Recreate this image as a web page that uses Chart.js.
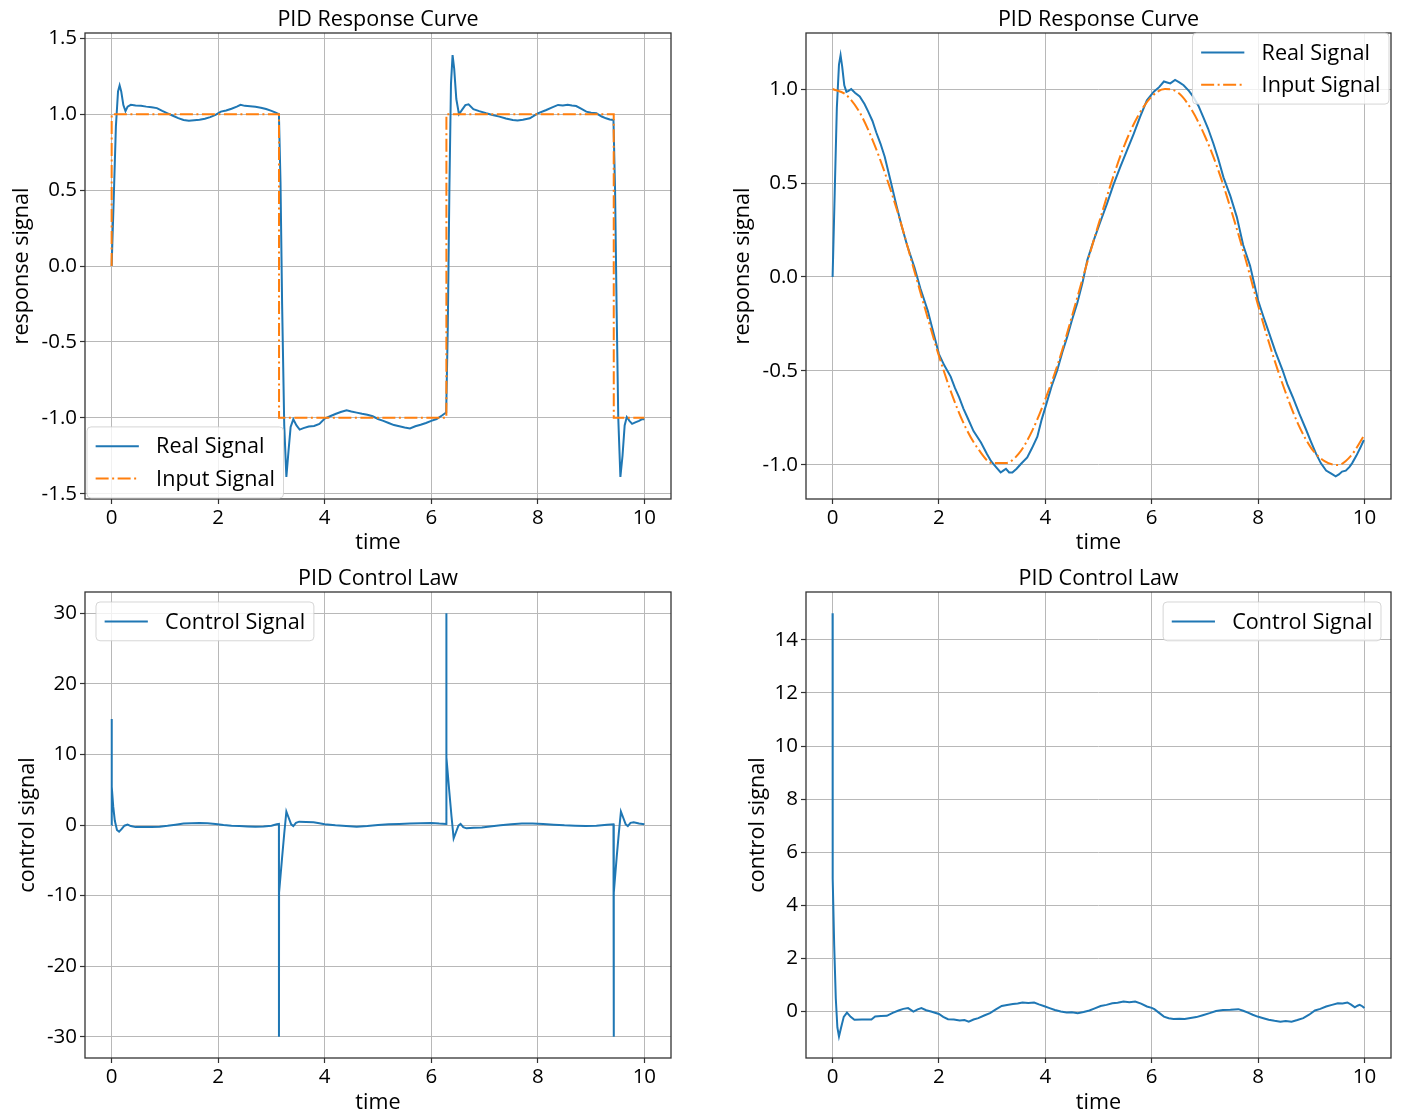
<!DOCTYPE html>
<html>
<head>
<meta charset="utf-8">
<script src="https://cdn.jsdelivr.net/npm/chart.js@4/dist/chart.umd.min.js"></script>
<style>
  html, body { margin: 0; padding: 0; background: #fff; }
  #page { position: relative; width: 1405px; height: 1117px; overflow: hidden; }
  .box { position: absolute; }
</style>
</head>
<body>
<div id="page">
  <div class="box" style="left:0;top:0"><canvas id="tl" width="700" height="560"></canvas></div>
  <div class="box" style="left:700px;top:0"><canvas id="tr" width="705" height="560"></canvas></div>
  <div class="box" style="left:0;top:560px"><canvas id="bl" width="700" height="557"></canvas></div>
  <div class="box" style="left:700px;top:560px"><canvas id="br" width="705" height="557"></canvas></div>
</div>
<script>
// square wave run: response
var sqRealTime = [0, 0.04, 0.08, 0.12, 0.15, 0.18, 0.22, 0.26, 0.30, 0.36, 0.45, 0.55, 0.65, 0.75, 0.85, 0.95,
  1.05, 1.15, 1.25, 1.35, 1.45, 1.55, 1.65, 1.75, 1.85, 1.95, 2.05, 2.15, 2.25, 2.35, 2.42, 2.50, 2.60, 2.70,
  2.80, 2.90, 3.00, 3.08, 3.14, 3.17, 3.20, 3.24, 3.28, 3.32, 3.36, 3.41, 3.47, 3.53, 3.60, 3.70, 3.80, 3.90,
  4.00, 4.10, 4.20, 4.30, 4.41, 4.50, 4.60, 4.70, 4.80, 4.90, 5.00, 5.10, 5.20, 5.30, 5.40, 5.50, 5.60, 5.70,
  5.80, 5.90, 6.00, 6.10, 6.20, 6.28, 6.31, 6.34, 6.37, 6.40, 6.43, 6.47, 6.52, 6.58, 6.64, 6.70, 6.79, 6.90,
  7.03, 7.15, 7.28, 7.40, 7.53, 7.62, 7.72, 7.85, 8.00, 8.16, 8.27, 8.38, 8.47, 8.56, 8.64, 8.72, 8.82, 8.91,
  9.00, 9.10, 9.20, 9.28, 9.35, 9.42, 9.45, 9.48, 9.51, 9.55, 9.59, 9.63, 9.67, 9.72, 9.77, 9.83, 9.90, 9.95, 10.0];
var sqReal = [0, 0.45, 0.92, 1.15, 1.19, 1.15, 1.06, 1.02, 1.05, 1.062, 1.058, 1.055, 1.05, 1.046, 1.04, 1.022,
  1.006, 0.99, 0.974, 0.962, 0.957, 0.96, 0.963, 0.97, 0.981, 0.995, 1.017, 1.024, 1.036, 1.05, 1.062, 1.055, 1.053, 1.049,
  1.042, 1.034, 1.022, 1.01, 1.0, 0.55, -0.25, -1.05, -1.39, -1.22, -1.06, -1.01, -1.05, -1.078, -1.068, -1.058, -1.054, -1.04,
  -1.005, -0.99, -0.975, -0.962, -0.95, -0.958, -0.966, -0.974, -0.98, -0.99, -1.008, -1.02, -1.034, -1.048, -1.056, -1.064, -1.07, -1.056,
  -1.046, -1.034, -1.02, -1.008, -0.985, -0.965, -0.4, 0.5, 1.2, 1.39, 1.3, 1.1, 1.0, 1.03, 1.06, 1.065, 1.033, 1.02,
  1.006, 0.995, 0.984, 0.972, 0.962, 0.958, 0.963, 0.973, 1.006, 1.028, 1.045, 1.061, 1.058, 1.062, 1.057, 1.054, 1.035, 1.017,
  1.01, 1.006, 0.985, 0.973, 0.965, 0.962, 0.5, -0.3, -1.0, -1.39, -1.25, -1.05, -0.995, -1.02, -1.04, -1.03, -1.02, -1.01, -1.01];
var sqInTime = [0, 0.001, 3.1416, 3.1426, 6.2832, 6.2842, 9.4248, 9.4258, 10.0];
var sqIn = [0, 1, 1, -1, -1, 1, 1, -1, -1];

// cosine run
var sinRealTime = [0, 0.04, 0.08, 0.12, 0.15, 0.18, 0.22, 0.26, 0.30, 0.35, 0.42, 0.51, 0.60, 0.67, 0.75, 0.82,
  0.90, 0.98, 1.10, 1.20, 1.30, 1.40, 1.54, 1.65, 1.79, 1.90, 2.00, 2.10, 2.22, 2.30, 2.38, 2.46, 2.54, 2.65,
  2.79, 2.90, 2.98, 3.07, 3.16, 3.21, 3.26, 3.32, 3.38, 3.46, 3.54, 3.66, 3.75, 3.85, 3.93, 4.02, 4.12, 4.22,
  4.32, 4.41, 4.50, 4.60, 4.70, 4.79, 4.91, 5.03, 5.16, 5.28, 5.41, 5.53, 5.66, 5.78, 5.91, 6.04, 6.14, 6.23,
  6.29, 6.35, 6.44, 6.52, 6.60, 6.70, 6.78, 6.88, 6.97, 7.06, 7.16, 7.25, 7.35, 7.48, 7.60, 7.72, 7.85, 8.00,
  8.10, 8.21, 8.33, 8.46, 8.55, 8.65, 8.78, 8.90, 9.00, 9.09, 9.18, 9.28, 9.37, 9.46, 9.52, 9.58, 9.65, 9.72,
  9.77, 9.85, 9.92, 9.99];
var sinReal = [0, 0.45, 0.9, 1.13, 1.18, 1.12, 1.02, 0.985, 0.99, 1.0, 0.98, 0.96, 0.92, 0.88, 0.83, 0.77,
  0.71, 0.64, 0.5, 0.38, 0.27, 0.17, 0.05, -0.06, -0.18, -0.3, -0.41, -0.47, -0.53, -0.59, -0.64, -0.7, -0.75, -0.82,
  -0.88, -0.94, -0.98, -1.01, -1.04, -1.03, -1.02, -1.04, -1.04, -1.02, -0.995, -0.96, -0.91, -0.85, -0.76, -0.675, -0.58, -0.5,
  -0.4, -0.32, -0.23, -0.14, -0.03, 0.09, 0.195, 0.29, 0.39, 0.49, 0.586, 0.67, 0.76, 0.85, 0.94, 0.986, 1.01, 1.04,
  1.035, 1.03, 1.048, 1.035, 1.02, 0.99, 0.96, 0.91, 0.85, 0.79, 0.71, 0.63, 0.53, 0.43, 0.32, 0.17, 0.06, -0.124,
  -0.21, -0.3, -0.4, -0.495, -0.57, -0.637, -0.73, -0.81, -0.88, -0.94, -0.99, -1.03, -1.045, -1.06, -1.05, -1.035, -1.03, -1.01,
  -0.99, -0.95, -0.91, -0.867];
var sinInTime = [0, 0.25, 0.5, 0.75, 1.0, 1.25, 1.5, 1.75, 2.0, 2.25, 2.5, 2.75, 3.0, 3.25, 3.5, 3.75, 4.0, 4.25,
  4.5, 4.75, 5.0, 5.25, 5.5, 5.75, 6.0, 6.25, 6.5, 6.75, 7.0, 7.25, 7.5, 7.75, 8.0, 8.25, 8.5, 8.75, 9.0, 9.25,
  9.5, 9.75, 10.0];
var sinIn = [1.0, 0.97, 0.88, 0.73, 0.54, 0.32, 0.07, -0.18, -0.42, -0.63, -0.8, -0.92, -0.99, -0.99, -0.94, -0.82, -0.65, -0.45,
  -0.21, 0.04, 0.28, 0.51, 0.71, 0.86, 0.96, 1.0, 0.98, 0.89, 0.75, 0.57, 0.35, 0.11, -0.15, -0.39, -0.6, -0.78, -0.91, -0.98,
  -1.0, -0.95, -0.84];

// control signals
var sqCtrlTime = [0, 0.001, 0.003, 0.03, 0.06, 0.10, 0.14, 0.19, 0.24, 0.30, 0.36, 0.45, 0.60, 0.75, 0.90, 1.05,
  1.20, 1.35, 1.50, 1.65, 1.80, 1.95, 2.10, 2.25, 2.40, 2.55, 2.70, 2.85, 3.00, 3.10, 3.140, 3.141, 3.143, 3.20,
  3.24, 3.28, 3.32, 3.37, 3.41, 3.46, 3.52, 3.65, 3.79, 3.90, 4.00, 4.20, 4.40, 4.60, 4.80, 5.00, 5.20, 5.40,
  5.60, 5.80, 6.00, 6.15, 6.280, 6.283, 6.285, 6.34, 6.38, 6.42, 6.46, 6.51, 6.55, 6.60, 6.66, 6.80, 6.95, 7.10,
  7.30, 7.50, 7.70, 7.90, 8.10, 8.30, 8.50, 8.70, 8.90, 9.10, 9.30, 9.420, 9.425, 9.427, 9.48, 9.52, 9.56, 9.60,
  9.65, 9.69, 9.74, 9.80, 9.90, 10.0];
var sqCtrl = [0, 15, 5.4, 2.6, 0.6, -0.7, -0.95, -0.55, -0.1, 0.05, -0.15, -0.3, -0.28, -0.3, -0.25, -0.12,
  0.05, 0.2, 0.25, 0.28, 0.25, 0.15, 0.0, -0.1, -0.15, -0.2, -0.25, -0.2, -0.1, 0.1, 0.15, -30, -9.6, -4.6,
  -1.2, 1.9, 1.1, 0.1, -0.15, 0.3, 0.47, 0.42, 0.38, 0.25, 0.1, -0.05, -0.15, -0.24, -0.15, 0.0, 0.1, 0.15,
  0.2, 0.25, 0.3, 0.2, 0.15, 30, 9.6, 4.6, 1.2, -1.9, -1.1, -0.1, 0.15, -0.3, -0.47, -0.4, -0.35, -0.2,
  -0.05, 0.1, 0.2, 0.22, 0.15, 0.05, -0.05, -0.1, -0.15, -0.1, 0.05, 0.1, -30, -9.6, -4.6, -1.2, 1.9, 1.1,
  0.1, -0.15, 0.3, 0.4, 0.2, 0.1];
var sinCtrlTime = [0, 0.002, 0.03, 0.06, 0.09, 0.12, 0.16, 0.21, 0.27, 0.34, 0.41, 0.55, 0.73, 0.80, 0.91, 1.02,
  1.13, 1.24, 1.33, 1.42, 1.52, 1.60, 1.67, 1.76, 1.85, 2.00, 2.08, 2.17, 2.28, 2.39, 2.48, 2.56, 2.65, 2.74,
  2.85, 2.96, 3.07, 3.18, 3.28, 3.39, 3.48, 3.57, 3.68, 3.79, 3.88, 3.97, 4.08, 4.18, 4.29, 4.40, 4.50, 4.61,
  4.72, 4.83, 4.93, 5.04, 5.15, 5.26, 5.36, 5.47, 5.58, 5.69, 5.80, 5.91, 6.00, 6.05, 6.14, 6.23, 6.32, 6.41,
  6.52, 6.62, 6.73, 6.84, 6.96, 7.09, 7.21, 7.34, 7.48, 7.63, 7.72, 7.81, 7.90, 7.99, 8.10, 8.20, 8.31, 8.42,
  8.52, 8.63, 8.74, 8.85, 8.96, 9.07, 9.17, 9.28, 9.39, 9.50, 9.59, 9.68, 9.75, 9.82, 9.87, 9.91, 9.96, 10.0];
var sinCtrl = [15, 5.0, 2.5, 0.5, -0.6, -0.94, -0.6, -0.2, -0.04, -0.2, -0.31, -0.3, -0.3, -0.19, -0.17, -0.16,
  -0.05, 0.04, 0.1, 0.13, 0.0, 0.08, 0.13, 0.05, 0.0, -0.09, -0.2, -0.29, -0.3, -0.34, -0.32, -0.38, -0.3, -0.25,
  -0.15, -0.06, 0.08, 0.21, 0.25, 0.28, 0.3, 0.34, 0.32, 0.34, 0.27, 0.21, 0.13, 0.06, 0.0, -0.04, -0.03, -0.06,
  -0.02, 0.04, 0.12, 0.21, 0.25, 0.31, 0.33, 0.38, 0.35, 0.38, 0.3, 0.19, 0.14, 0.09, -0.05, -0.19, -0.25, -0.28,
  -0.27, -0.28, -0.24, -0.21, -0.14, -0.06, 0.02, 0.06, 0.07, 0.09, 0.03, -0.04, -0.12, -0.19, -0.25, -0.31, -0.35, -0.38,
  -0.36, -0.38, -0.32, -0.25, -0.12, 0.04, 0.1, 0.19, 0.25, 0.31, 0.3, 0.34, 0.26, 0.16, 0.22, 0.25, 0.2, 0.13];

var xTicks = [0, 2, 4, 6, 8, 10];
var tlTicks = [-1.5, -1.0, -0.5, 0.0, 0.5, 1.0, 1.5];
var trTicks = [-1.0, -0.5, 0.0, 0.5, 1.0];
var blTicks = [-30, -20, -10, 0, 10, 20, 30];
var brTicks = [0, 2, 4, 6, 8, 10, 12, 14];

var BLUE = '#1f77b4';
var ORANGE = '#ff7f0e';
var GRID = '#b8b8b8';
var SPINE = '#333333';
var FONT = "'Open Sans', 'Noto Sans', sans-serif";

Chart.defaults.font.family = FONT;
Chart.defaults.color = '#000';

function pts(xs, ys) {
  return xs.map(function (x, i) { return { x: x, y: ys[i] }; });
}

// axes box on all four sides, over the lines
var frame = {
  id: 'frame',
  afterDatasetsDraw: function (chart) {
    var a = chart.chartArea, ctx = chart.ctx;
    ctx.save();
    ctx.strokeStyle = SPINE;
    ctx.lineWidth = 1.3;
    ctx.strokeRect(a.left, a.top, a.right - a.left, a.bottom - a.top);
    ctx.restore();
  }
};

// legend drawn inside the axes like matplotlib does
var insideLegend = {
  id: 'insideLegend',
  afterDraw: function (chart, args, o) {
    if (!o || !o.corner) return;
    var ctx = chart.ctx, a = chart.chartArea;
    var F = o.fontSize, rh = o.rowH;
    var sets = chart.data.datasets;
    ctx.save();
    ctx.font = F + 'px ' + FONT;
    var tw = 0;
    sets.forEach(function (d) { tw = Math.max(tw, ctx.measureText(d.label).width); });
    var bp = 0.4 * F, hl = 2 * F, htp = 0.8 * F, ls = 0.5 * F;
    var bw = bp * 2 + hl + htp + tw;
    var bh = bp * 2 + sets.length * rh + (sets.length - 1) * ls;
    var x = o.corner.charAt(1) === 'r' ? a.right - o.dx - bw : a.left + o.dx;
    var y = o.corner.charAt(0) === 'l' ? a.bottom - o.dy - bh : a.top + o.dy;
    ctx.beginPath();
    ctx.roundRect(x, y, bw, bh, 4);
    ctx.fillStyle = 'rgba(255,255,255,0.8)';
    ctx.fill();
    ctx.strokeStyle = 'rgba(204,204,204,0.8)';
    ctx.lineWidth = 1;
    ctx.stroke();
    sets.forEach(function (d, i) {
      var cy = y + bp + i * (rh + ls) + rh / 2;
      ctx.beginPath();
      ctx.setLineDash(d.borderDash || []);
      ctx.strokeStyle = d.borderColor;
      ctx.lineWidth = d.borderWidth;
      ctx.moveTo(x + bp, cy);
      ctx.lineTo(x + bp + hl, cy);
      ctx.stroke();
      ctx.setLineDash([]);
      ctx.fillStyle = '#000';
      ctx.textBaseline = 'middle';
      ctx.textAlign = 'left';
      ctx.fillText(d.label, x + bp + hl + htp, cy + 1);
    });
    ctx.restore();
  }
};

Chart.register(frame, insideLegend);

function realSet(label, xs, ys) {
  return { label: label, data: pts(xs, ys), borderColor: BLUE, borderWidth: 2, pointRadius: 0,
    tension: 0, order: 1 };
}
function inputSet(label, xs, ys, smooth) {
  return { label: label, data: pts(xs, ys), borderColor: ORANGE, borderWidth: 2, pointRadius: 0,
    borderDash: [13, 3.5, 2, 3.5], cubicInterpolationMode: smooth ? 'monotone' : 'default', tension: 0, order: 0 };
}

function options(o) {
  return {
    responsive: false,
    animation: false,
    events: [],
    layout: { padding: { left: 0, right: o.padRight, top: 0, bottom: 0 } },
    plugins: {
      legend: { display: false },
      tooltip: { enabled: false },
      title: { display: true, text: o.title, fullSize: false, color: '#000',
        font: { size: 21.5, weight: 'normal' }, padding: { top: o.titleTop, bottom: o.titleBottom } },
      insideLegend: o.legend
    },
    scales: {
      x: {
        type: 'linear', min: -0.5, max: 10.5,
        afterBuildTicks: function (s) { s.ticks = xTicks.map(function (v) { return { value: v }; }); },
        afterFit: function (s) { s.height = o.xHeight; },
        grid: { color: GRID, lineWidth: 1, tickColor: SPINE, tickLength: 5, tickWidth: 1.2 },
        border: { display: false },
        ticks: { color: '#000', font: { size: 20.5 }, padding: 2, maxRotation: 0,
          callback: function (v) { return String(v); } },
        title: { display: true, text: 'time', color: '#000', font: { size: 21.6 },
          padding: { top: 0, bottom: o.xTitlePad } }
      },
      y: {
        type: 'linear', min: o.yMin, max: o.yMax,
        afterBuildTicks: function (s) { s.ticks = o.yTicks.map(function (v) { return { value: v }; }); },
        afterFit: function (s) { s.width = o.yWidth; },
        grid: { color: GRID, lineWidth: 1, tickColor: SPINE, tickLength: 5, tickWidth: 1.2 },
        border: { display: false },
        ticks: { color: '#000', font: { size: 20.5 }, padding: 3, callback: o.fmt },
        title: { display: true, text: o.yLabel, color: '#000', font: { size: 21.6 },
          padding: { top: o.yTitlePad, bottom: 0 } }
      }
    }
  };
}

var oneDec = function (v) { return v.toFixed(1); };
var whole = function (v) { return String(v); };
var legendFont = 21.6, legendRow = 21.5;

new Chart(document.getElementById('tl'), {
  type: 'line',
  data: { datasets: [realSet('Real Signal', sqRealTime, sqReal), inputSet('Input Signal', sqInTime, sqIn, false)] },
  options: options({ title: 'PID Response Curve', titleTop: 7.2, titleBottom: 0.0, padRight: 29,
    xHeight: 61, xTitlePad: 4, yWidth: 85, yTitlePad: 9, yMin: -1.535, yMax: 1.535, yTicks: tlTicks,
    fmt: oneDec, yLabel: 'response signal',
    legend: { corner: 'll', dx: 2, dy: 1, fontSize: legendFont, rowH: legendRow } })
});

new Chart(document.getElementById('tr'), {
  type: 'line',
  data: { datasets: [realSet('Real Signal', sinRealTime, sinReal), inputSet('Input Signal', sinInTime, sinIn, true)] },
  options: options({ title: 'PID Response Curve', titleTop: 7.2, titleBottom: 0.0, padRight: 14,
    xHeight: 61, xTitlePad: 4, yWidth: 106, yTitlePad: 30, yMin: -1.181, yMax: 1.298, yTicks: trTicks,
    fmt: oneDec, yLabel: 'response signal',
    legend: { corner: 'ur', dx: 2, dy: 0, fontSize: legendFont, rowH: legendRow } })
});

new Chart(document.getElementById('bl'), {
  type: 'line',
  data: { datasets: [realSet('Control Signal', sqCtrlTime, sqCtrl)] },
  options: options({ title: 'PID Control Law', titleTop: 6.2, titleBottom: 0.0, padRight: 29,
    xHeight: 59, xTitlePad: 1, yWidth: 85, yTitlePad: 15, yMin: -33, yMax: 33, yTicks: blTicks,
    fmt: whole, yLabel: 'control signal',
    legend: { corner: 'ul', dx: 11, dy: 10, fontSize: legendFont, rowH: legendRow } })
});

new Chart(document.getElementById('br'), {
  type: 'line',
  data: { datasets: [realSet('Control Signal', sinCtrlTime, sinCtrl)] },
  options: options({ title: 'PID Control Law', titleTop: 6.2, titleBottom: 0.0, padRight: 14,
    xHeight: 59, xTitlePad: 1, yWidth: 106, yTitlePad: 45, yMin: -1.75, yMax: 15.8, yTicks: brTicks,
    fmt: whole, yLabel: 'control signal',
    legend: { corner: 'ur', dx: 10, dy: 10, fontSize: legendFont, rowH: legendRow } })
});
</script>
</body>
</html>
